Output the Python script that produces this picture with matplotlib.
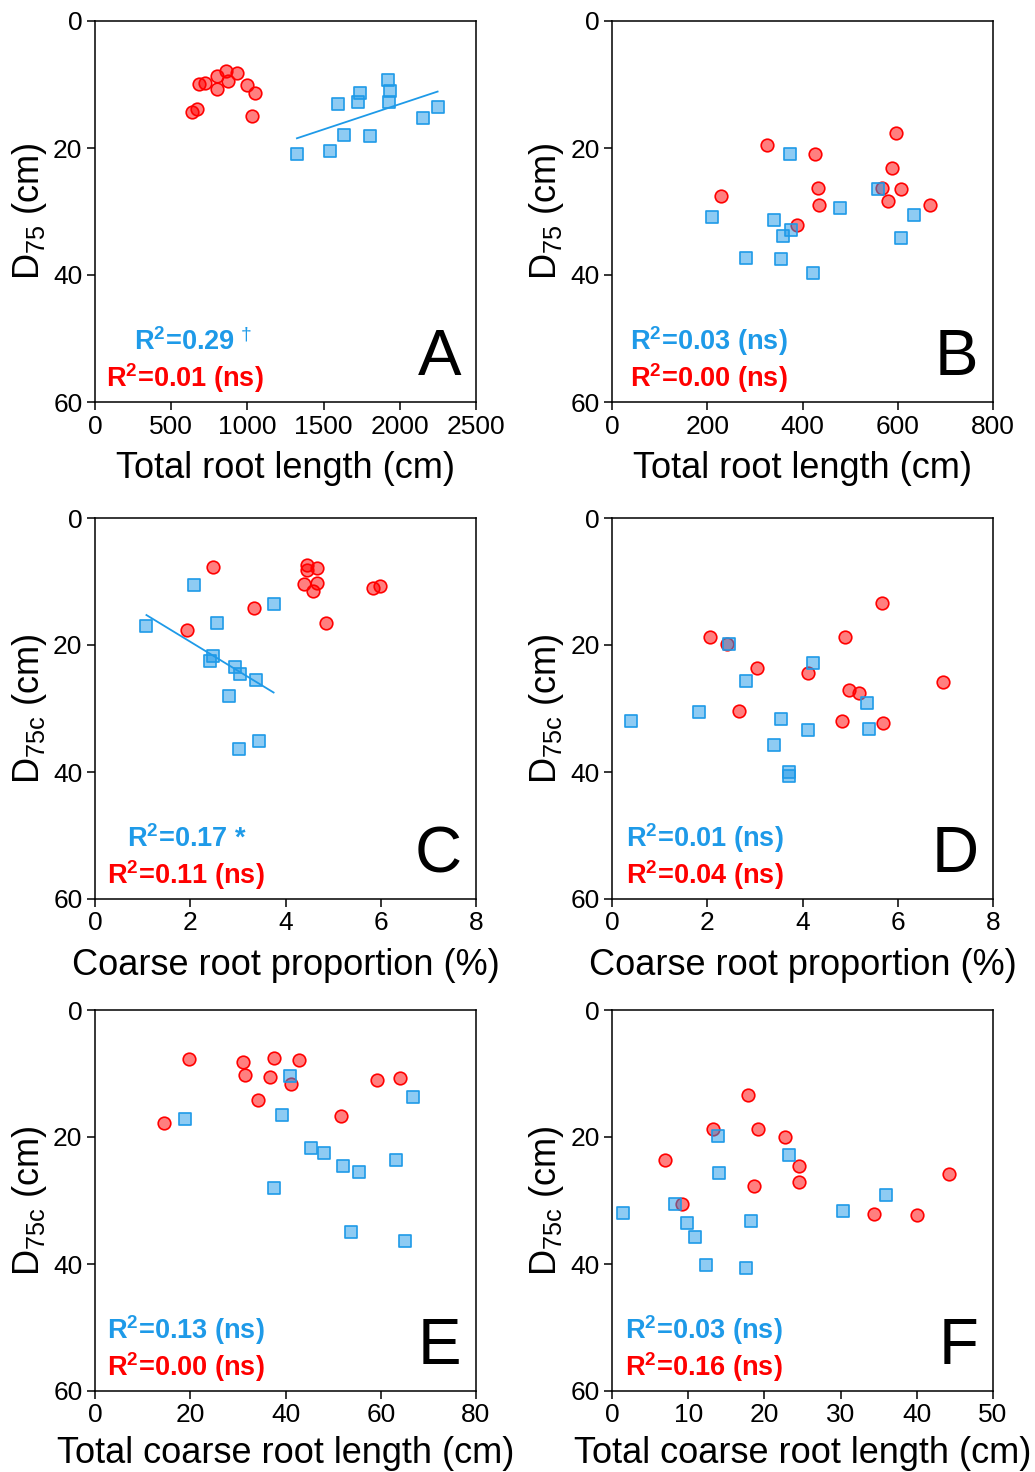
import numpy as np
import matplotlib
matplotlib.use('Agg')
import matplotlib.pyplot as plt

plt.rcParams['font.family'] = ['Liberation Sans', 'DejaVu Sans']
plt.rcParams['mathtext.fontset'] = 'custom'
plt.rcParams['mathtext.rm'] = 'Liberation Sans'
plt.rcParams['mathtext.it'] = 'Liberation Sans:italic'
plt.rcParams['mathtext.bf'] = 'Liberation Sans:bold'

BLUE = '#1E9AE8'
RED = '#FF0000'

# A: total root length vs D75
a_red_x = [634, 669, 682, 720, 798, 800, 862, 875, 934, 995, 1050, 1032]
a_red_y = [14.4, 13.9, 9.9, 9.7, 8.6, 10.7, 7.9, 9.4, 8.2, 10.0, 11.4, 14.9]
a_blue_x = [1325, 1544, 1636, 1804, 1592, 1723, 1737, 1922, 1935, 1929, 2154, 2248]
a_blue_y = [20.9, 20.4, 18.0, 18.1, 13.1, 12.8, 11.3, 9.3, 11.1, 12.8, 15.3, 13.5]

# B: total root length vs D75
b_red_x = [325, 228, 426, 432, 435, 388, 596, 588, 566, 607, 580, 667]
b_red_y = [19.6, 27.6, 21.0, 26.3, 28.9, 32.1, 17.6, 23.2, 26.3, 26.4, 28.3, 29.0]
b_blue_x = [374, 209, 340, 478, 559, 634, 607, 376, 359, 281, 354, 422]
b_blue_y = [20.9, 30.9, 31.3, 29.5, 26.5, 30.5, 34.1, 32.9, 33.9, 37.4, 37.5, 39.7]

# C: coarse root proportion vs D75c
c_red_x = [2.48, 1.94, 3.34, 4.46, 4.45, 4.67, 4.39, 4.67, 4.58, 4.84, 5.84, 5.98]
c_red_y = [7.7, 17.7, 14.2, 7.4, 8.2, 7.8, 10.4, 10.2, 11.5, 16.6, 11.0, 10.7]
c_blue_x = [2.07, 1.08, 2.56, 3.75, 2.47, 2.42, 2.93, 3.04, 3.38, 2.82, 3.45, 3.02]
c_blue_y = [10.5, 17.0, 16.6, 13.6, 21.7, 22.5, 23.5, 24.5, 25.5, 28.1, 35.1, 36.3]

# D: coarse root proportion vs D75c
d_red_x = [2.05, 2.41, 3.04, 4.11, 2.66, 4.89, 5.67, 4.97, 5.18, 4.83, 5.69, 6.96]
d_red_y = [18.8, 19.9, 23.7, 24.4, 30.4, 18.8, 13.4, 27.1, 27.6, 32.0, 32.3, 25.9]
d_blue_x = [2.45, 4.23, 2.81, 0.39, 1.82, 3.54, 4.12, 3.41, 3.72, 3.72, 5.35, 5.40]
d_blue_y = [19.9, 22.8, 25.6, 31.9, 30.5, 31.6, 33.4, 35.8, 40.0, 40.6, 29.1, 33.2]

# E: total coarse root length vs D75c
e_red_x = [19.8, 14.4, 31.0, 31.4, 37.5, 36.8, 42.9, 41.2, 34.3, 51.6, 59.3, 64.0]
e_red_y = [7.7, 17.8, 8.2, 10.3, 7.6, 10.5, 7.8, 11.6, 14.2, 16.7, 11.1, 10.7]
e_blue_x = [41.0, 18.8, 39.2, 66.8, 45.4, 48.0, 52.0, 55.5, 63.2, 37.6, 53.7, 65.0]
e_blue_y = [10.4, 17.1, 16.6, 13.7, 21.8, 22.5, 24.6, 25.5, 23.6, 28.1, 35.0, 36.4]

# F: total coarse root length vs D75c
f_red_x = [17.9, 13.3, 19.1, 22.7, 6.9, 24.6, 24.5, 18.6, 9.2, 34.4, 40.0, 44.2]
f_red_y = [13.4, 18.7, 18.8, 20.0, 23.7, 24.5, 27.1, 27.7, 30.5, 32.1, 32.3, 25.9]
f_blue_x = [13.9, 23.2, 14.1, 1.4, 8.3, 9.9, 10.9, 12.3, 17.6, 18.2, 30.3, 35.9]
f_blue_y = [19.9, 22.9, 25.7, 32.0, 30.6, 33.5, 35.8, 40.1, 40.6, 33.2, 31.7, 29.2]

panel_letters = ['A', 'B', 'C', 'D', 'E', 'F']
xlabels = ['Total root length (cm)', 'Total root length (cm)',
           'Coarse root proportion (%)', 'Coarse root proportion (%)',
           'Total coarse root length (cm)', 'Total coarse root length (cm)']
ylabels = [r'D$_{\mathregular{75}}$ (cm)', r'D$_{\mathregular{75}}$ (cm)',
           r'D$_{\mathregular{75c}}$ (cm)', r'D$_{\mathregular{75c}}$ (cm)',
           r'D$_{\mathregular{75c}}$ (cm)', r'D$_{\mathregular{75c}}$ (cm)']
xmax = [2500, 800, 8, 8, 80, 50]
xstep = [500, 200, 2, 2, 20, 10]
blue_r2 = ['0.29', '0.03', '0.17', '0.01', '0.13', '0.03']
blue_sig = ['', ' (ns)', ' *', ' (ns)', ' (ns)', ' (ns)']
blue_mark = ['†', '', '', '', '', '']
red_r2 = ['0.01', '0.00', '0.11', '0.04', '0.00', '0.16']
fit_line = [True, False, True, False, False, False]

reds = [(a_red_x, a_red_y), (b_red_x, b_red_y), (c_red_x, c_red_y),
        (d_red_x, d_red_y), (e_red_x, e_red_y), (f_red_x, f_red_y)]
blues = [(a_blue_x, a_blue_y), (b_blue_x, b_blue_y), (c_blue_x, c_blue_y),
         (d_blue_x, d_blue_y), (e_blue_x, e_blue_y), (f_blue_x, f_blue_y)]

# where the two R^2 lines start in each panel (axes fraction)
blue_txt_x = [0.102, 0.047, 0.083, 0.036, 0.031, 0.034]
red_txt_x = [0.030, 0.047, 0.031, 0.036, 0.031, 0.034]

fig = plt.figure(figsize=(10.35, 14.72), dpi=100)
W, H = 1035, 1472
lefts = [95, 612]
tops = [21, 518, 1010]
size = 381
xlabel_pad = [9, 9, 6]

for i in range(6):
    col, row = i % 2, i // 2
    ax = fig.add_axes([lefts[col] / W, 1 - (tops[row] + size) / H, size / W, size / H])

    rx, ry = reds[i]
    bx, by = blues[i]
    ax.scatter(rx, ry, s=82, marker='o', facecolor=(1, 0, 0, 0.5),
               edgecolor=RED, linewidth=1.2, zorder=3)
    ax.scatter(bx, by, s=72, marker='s', facecolor=(0.12, 0.60, 0.91, 0.5),
               edgecolor=BLUE, linewidth=1.2, zorder=4)

    if fit_line[i]:
        k, b = np.polyfit(bx, by, 1)
        xs = np.array([min(bx), max(bx)])
        ax.plot(xs, k * xs + b, color=BLUE, lw=1.3, zorder=2)

    ax.set_xlim(0, xmax[i])
    ax.set_ylim(60, 0)
    ax.set_xticks(np.arange(0, xmax[i] + xstep[i] / 2, xstep[i]))
    ax.set_yticks([0, 20, 40, 60])
    ax.tick_params(direction='out', length=6, width=1.1, labelsize=19, pad=3)
    for sp in ax.spines.values():
        sp.set_linewidth(1.1)

    ax.set_xlabel(xlabels[i], fontsize=26, labelpad=xlabel_pad[row])
    ax.set_ylabel(ylabels[i], fontsize=26, labelpad=3)

    t = ax.text(blue_txt_x[i], 0.137, r'R$^{\mathbf{2}}$=' + blue_r2[i] + blue_sig[i],
                transform=ax.transAxes, color=BLUE, fontsize=19.5, fontweight='bold',
                ha='left', va='baseline')
    if blue_mark[i]:
        ax.annotate(blue_mark[i], xy=(1, 0.45), xycoords=t, xytext=(4, 0),
                    textcoords='offset points', color=BLUE, fontsize=14,
                    ha='left', va='bottom')
    ax.text(red_txt_x[i], 0.040, r'R$^{\mathbf{2}}$=' + red_r2[i] + ' (ns)',
            transform=ax.transAxes, color=RED, fontsize=19.5, fontweight='bold',
            ha='left', va='baseline')
    ax.text(0.962, 0.07, panel_letters[i], transform=ax.transAxes,
            fontsize=47, ha='right', va='baseline')

fig.savefig('out.png', dpi=100)
